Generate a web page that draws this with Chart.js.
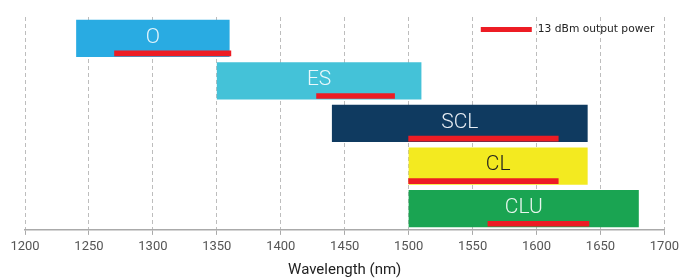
<!DOCTYPE html>
<html>
<head>
<meta charset="utf-8">
<script src="https://cdn.jsdelivr.net/npm/chart.js@4"></script>
<style>
html,body{margin:0;padding:0;background:#fff;}
#wrap{width:683px;height:278px;}
</style>
</head>
<body>
<div id="wrap"><canvas id="c" width="683" height="278"></canvas></div>
<script>
const categories = ['O', 'ES', 'SCL', 'CL', 'CLU'];
const bandStart = [1240, 1350, 1440, 1500, 1500];
const bandEnd = [1360, 1510, 1640, 1640, 1680];
const powerStart = [1270, 1428, 1500, 1500, 1562];
const powerEnd = [1361, 1489, 1617, 1617, 1641];
const xTicks = [1200, 1250, 1300, 1350, 1400, 1450, 1500, 1550, 1600, 1650, 1700];
const bandColors = ['#29abe2', '#44c2d8', '#0f3a60', '#f3ea20', '#1aa452'];
const labelColors = ['#e4f5fc', '#e9f8fb', '#e8eef4', '#1e1e1e', '#e8f6ee'];
const powerLabel = '13 dBm output power';

const bandData = categories.map((c, i) => [bandStart[i], bandEnd[i]]);
const powerData = categories.map((c, i) => [powerStart[i], powerEnd[i]]);

const bandPlugin = {
  id: 'bandPlugin',
  afterUpdate(chart) {
    const main = chart.getDatasetMeta(0).data;
    const red = chart.getDatasetMeta(1).data;
    red.forEach((el, i) => {
      const m = main[i];
      el.y = m.y + m.height / 2 - 1 - el.height / 2;
    });
  },
  afterDatasetsDraw(chart) {
    const ctx = chart.ctx;
    const main = chart.getDatasetMeta(0).data;
    ctx.save();
    ctx.font = '300 21px Roboto';
    ctx.textAlign = 'center';
    ctx.textBaseline = 'middle';
    main.forEach((el, i) => {
      const cx = (el.x + el.base) / 2;
      ctx.fillStyle = labelColors[i];
      ctx.fillText(categories[i], cx, el.y - 1);
    });
    // legend for the output-power dataset
    const ds = chart.data.datasets[1];
    const area = chart.chartArea;
    ctx.font = '10.7px "DejaVu Sans"';
    ctx.textAlign = 'left';
    const tw = ctx.measureText(ds.label).width;
    const textX = area.right - 10 - tw;
    const cy = area.top + 12.5;
    ctx.fillStyle = '#222';
    ctx.fillText(ds.label, textX, cy);
    ctx.fillStyle = ds.backgroundColor;
    ctx.fillRect(textX - 6 - 51, cy - 2.5, 51, 5);
    ctx.restore();
  }
};

new Chart(document.getElementById('c'), {
  type: 'bar',
  data: {
    labels: categories,
    datasets: [
      {
        label: 'bands',
        data: bandData,
        backgroundColor: bandColors,
        borderWidth: 0,
        barPercentage: 0.875,
        categoryPercentage: 1,
        grouped: false,
        order: 2
      },
      {
        label: powerLabel,
        data: powerData,
        backgroundColor: '#ed1c24',
        borderColor: '#ed1c24',
        borderWidth: 0,
        barThickness: 5,
        grouped: false,
        order: 1
      }
    ]
  },
  options: {
    indexAxis: 'y',
    responsive: false,
    animation: false,
    layout: { padding: { left: 25, right: 17, top: 17, bottom: 0 } },
    plugins: {
      legend: { display: false },
      tooltip: { enabled: false }
    },
    scales: {
      x: {
        type: 'linear',
        min: 1200,
        max: 1700,
        afterBuildTicks: (axis) => { axis.ticks = xTicks.map(v => ({ value: v })); },
        ticks: {
          color: '#555',
          font: { family: 'Roboto', size: 13 },
          padding: 4,
          maxRotation: 0,
          callback: (v) => String(v)
        },
        grid: {
          color: '#bdbdbd',
          lineWidth: 1,
          tickLength: 5,
          tickColor: '#aaa',
          tickBorderDash: [],
          drawOnChartArea: true
        },
        border: { display: true, color: '#aaa', width: 1.5, dash: [4, 3] },
        title: {
          display: true,
          text: 'Wavelength (nm)',
          color: '#222',
          font: { family: 'Roboto', size: 15, lineHeight: 1 },
          padding: { top: 4.5, bottom: 0 }
        }
      },
      y: {
        type: 'category',
        display: false,
        offset: true
      }
    }
  },
  plugins: [bandPlugin]
});
</script>
</body>
</html>
